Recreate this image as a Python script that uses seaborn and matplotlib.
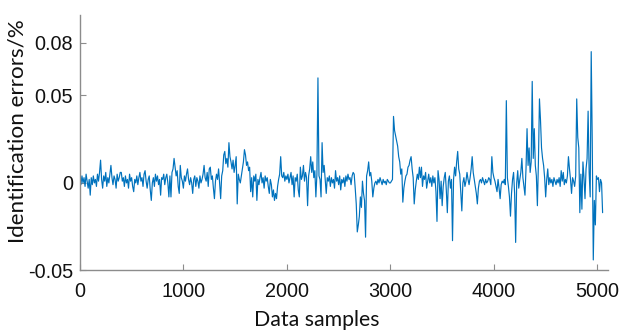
import numpy as np
import pandas as pd
import matplotlib
matplotlib.use("Agg")
import matplotlib.pyplot as plt
import seaborn as sns

# Identification error values, in units of 0.001,
# one value every 10 data samples (sample 0 .. 5050)
errors_milli = [
    2, -1, 4, 0, 3, -2, 5, 1, -3, 2, -7, 3, -1, 4, 0, 2, -2, 5, 1, 6,
    13, 2, -3, 4, 1, 6, -2, 3, 0, 5, 10, 3, -1, 4, 2, -3, 5, 1, 3, 6,
    6, 1, 3, -2, 4, 0, 2, -3, 5, 1, 3, -2, -5, 2, 0, 4, -1, 3, 6, 1,
    3, -2, 5, 7, 1, -3, 2, 4, -4, -10, 0, 3, -2, 5, 1, 4, -1, 2, -7, 3,
    2, 5, -1, 3, 5, 0, -8, 4, -8, 6, 8, 14, 9, 4, 7, -2, -6, 10, 3, 1,
    -3, 4, 1, 5, 8, 2, -1, 3, 0, -6, 2, 4, -2, 3, 1, -3, 4, 0, 2, 5,
    10, 3, 1, 6, -2, 8, 9, 2, 4, -3, -9, 1, 5, 2, 8, 0, -9, 4, 7, 16,
    18, 11, 14, 9, 23, 15, 12, 8, 13, 6, 10, 15, -12, 5, 2, 0, 4, 8, 12, 19,
    16, 10, 12, 7, 9, -5, 3, -8, 4, 1, 5, -10, 2, -1, 3, 6, 0, 3, -3, 4,
    1, 3, -2, -6, 2, -1, -8, -4, -10, -6, -9, -2, 2, 5, 15, 4, 3, 6, 1, 4,
    2, 5, 0, 3, 6, -1, 4, -8, 3, 1, 5, -4, -8, 9, 2, 4, 10, 1, 6, 3,
    -13, 4, 8, 15, 6, 12, 3, 7, -8, 5, 60, 4, 2, -8, 23, 6, 10, 2, -6, 3,
    1, 4, -2, 3, 0, 2, -3, 7, 1, 3, -1, 4, -4, 2, 0, 3, -2, 4, 1, 5,
    2, 3, -1, 4, 6, 5, -3, -12, -28, -24, -19, -8, -14, 1, -6, -10, -31, 4, 7, 12,
    4, 6, 1, -8, -3, 0, 1, -1, 2, 0, 3, 1, -1, 2, 0, 1, -1, 2, 1, 0,
    0, 1, 2, 38, 30, 27, 24, 21, 15, 12, 5, 8, -11, -3, 1, 4, 5, 9, 10, 13,
    15, 8, 3, -12, -4, 1, 5, 2, 9, 3, 9, -2, 4, 2, 6, -3, 1, 5, 0, 3,
    -2, 4, 0, 3, -5, -22, 7, 2, -9, 1, -13, -2, 3, 6, -4, -17, 1, 4, -3, 2,
    -33, 2, 9, 4, 12, 18, 8, 5, -5, -16, 0, 3, -2, 1, 6, 2, -1, 3, 8, 15,
    6, 2, -2, -6, -12, -3, 1, 2, 0, 3, 1, -1, 2, 0, 1, 3, 2, -1, 15, 6,
    3, 1, -2, -5, 2, -3, -9, -1, 1, 0, 2, -1, 47, 3, -2, -8, -19, -6, 2, 6,
    -6, -34, 0, 7, -3, 2, 6, 14, 3, -2, -7, 8, 31, 10, 20, 6, 12, 58, 14, 31,
    10, 4, -13, 12, 48, 36, 20, 14, 10, 3, -8, 2, 8, -1, 3, 0, 2, -2, 3, 1,
    -1, 2, 0, 3, -2, 7, 1, 6, -1, 2, 0, 4, 15, 8, 2, -6, 3, 1, -2, 4,
    48, 26, 20, -17, 5, -15, 12, 3, -9, 8, 14, 41, 6, -8, 75, 23, -44, -10, -24, 4,
    2, 3, -5, 2, 0, -17,
]
sample_step = 10
x_ticks = [0, 1000, 2000, 3000, 4000, 5000]
x_tick_labels = ["0", "1000", "2000", "3000", "4000", "5000"]
y_ticks = [-0.05, 0, 0.05, 0.08]
y_tick_labels = ["-0.05", "0", "0.05", "0.08"]
x_label = "Data samples"
y_label = "Identification errors/%"

samples = np.arange(len(errors_milli)) * sample_step
errors = np.array(errors_milli) / 1000.0
df = pd.DataFrame({"sample": samples, "error": errors})

sns.set_style("white")
plt.rcParams["font.family"] = ["Liberation Sans", "DejaVu Sans"]

fig = plt.figure(figsize=(6.24, 3.31), dpi=100)
ax = fig.add_axes([0.128, 0.183, 0.846, 0.772])

sns.lineplot(data=df, x="sample", y="error", ax=ax, color="#0072BD",
             linewidth=0.85, estimator=None)

ax.set_xlim(0, 5100)
ax.set_ylim(-0.05, 0.096)
ax.set_xticks(x_ticks)
ax.set_xticklabels(x_tick_labels)
ax.set_yticks(y_ticks)
ax.set_yticklabels(y_tick_labels)

grey = "#8c8c8c"
for side in ["top", "right"]:
    ax.spines[side].set_visible(False)
for side in ["left", "bottom"]:
    ax.spines[side].set_visible(True)
    ax.spines[side].set_color(grey)
    ax.spines[side].set_linewidth(1.0)

ax.tick_params(axis="both", direction="in", length=4, width=0.8,
               color=grey, labelsize=14.3, labelcolor="#111111",
               left=True, bottom=True)
ax.tick_params(axis="x", pad=8)
ax.tick_params(axis="y", pad=5)

ax.set_xlabel(x_label, family=["Lato", "DejaVu Sans"], fontsize=15.3,
              color="#111111", va="center")
ax.set_ylabel(y_label, family=["Lato", "DejaVu Sans"], fontsize=16.2,
              color="#111111", va="center")
ax.xaxis.set_label_coords(0.449, -0.194)
ax.yaxis.set_label_coords(-0.119, 0.544)

fig.savefig("out.png", dpi=100)
